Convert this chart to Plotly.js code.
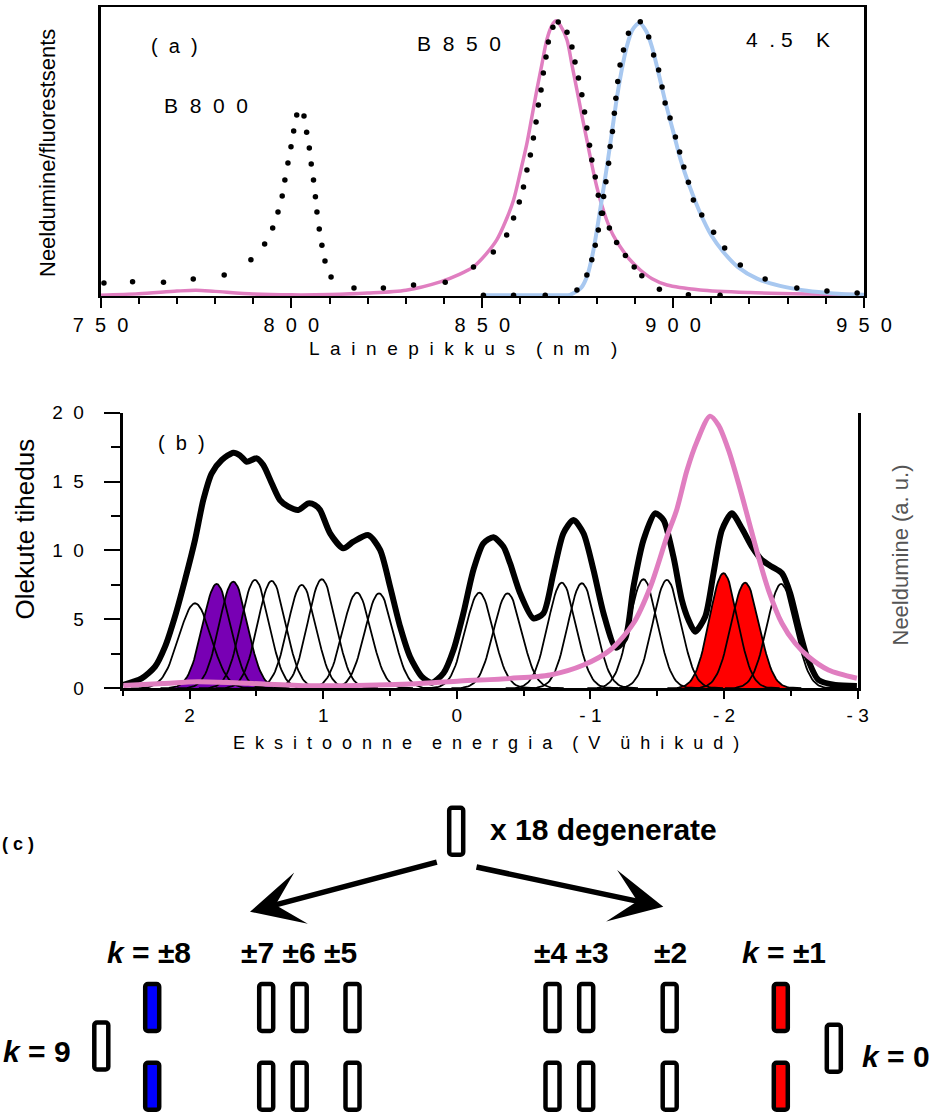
<!DOCTYPE html>
<html><head><meta charset="utf-8">
<script src="https://cdn.plot.ly/plotly-3.0.1.min.js"></script>
<style>html,body{margin:0;padding:0;background:#fff}#chart{width:935px;height:1115px}</style>
</head><body><div id="chart"></div>
<script>
// ---------------- Panel (a): spectra vs wavelength (nm) ----------------
const absWl  = [750.9,758.4,766.5,774.3,782.4,789.4,793.0,795.1,796.5,797.6,798.3,799.1,799.9,800.6,801.4,803.3,804.0,804.7,805.2,805.8,806.3,806.7,807.3,808.0,808.8,810.4,816.4,824.1,832.0,840.3,847.7,852.9,856.4,858.2,859.7,860.8,861.7,862.6,863.4,864.1,864.7,865.4,866.0,866.7,867.3,868.5,869.9,872.2,873.5,874.3,875.2,876.1,876.8,877.4,878.1,878.7,879.6,880.4,881.5,883.3,885.2,887.5,889.8,891.8,896.4,904.0,912.3];
const absVal = [0.045,0.049,0.048,0.059,0.073,0.125,0.180,0.235,0.291,0.346,0.401,0.460,0.516,0.571,0.626,0.623,0.567,0.512,0.457,0.401,0.343,0.291,0.232,0.176,0.121,0.066,0.028,0.028,0.038,0.048,0.100,0.152,0.211,0.270,0.325,0.377,0.436,0.488,0.547,0.602,0.661,0.713,0.772,0.827,0.879,0.930,0.948,0.913,0.862,0.810,0.754,0.696,0.637,0.581,0.522,0.471,0.412,0.349,0.286,0.235,0.185,0.140,0.100,0.070,0.023,0.004,0.003];
const fluWl  = [850.3,858.2,866.5,874.8,877.4,878.7,879.6,880.4,881.2,881.8,882.4,883.1,883.5,884.1,884.6,885.0,885.5,886.1,887.0,888.3,891.4,893.6,894.9,896.2,897.1,897.9,899.2,900.6,901.7,902.8,904.0,905.3,907.5,910.6,913.5,917.6,924.1,932.4,940.3,948.2];
const fluVal = [0.003,0.003,0.003,0.021,0.073,0.125,0.176,0.228,0.286,0.344,0.395,0.459,0.517,0.569,0.632,0.684,0.742,0.799,0.851,0.909,0.949,0.896,0.834,0.782,0.723,0.668,0.616,0.550,0.498,0.446,0.394,0.332,0.280,0.221,0.166,0.107,0.059,0.028,0.017,0.010];
const calcAbsWl  = [750,760,770,775,780,790,800,810,820,830,839,844,847.7,851,853.8,856,858.2,860,861.7,863,864.3,865.6,866.9,868.2,869.3,870.5,872.2,873.5,874.8,876.1,877.4,878.7,880.0,881.3,882.6,884.3,886.1,888.5,891.4,894.5,898.4,907.1,920,935,950];
const calcAbsVal = [0.003,0.008,0.017,0.020,0.016,0.007,0.004,0.005,0.010,0.020,0.049,0.075,0.101,0.145,0.194,0.255,0.332,0.430,0.528,0.620,0.713,0.800,0.886,0.935,0.952,0.935,0.886,0.800,0.713,0.625,0.540,0.455,0.378,0.315,0.263,0.210,0.171,0.128,0.090,0.060,0.038,0.021,0.012,0.007,0.004];
const calcFluWl  = [850,860,870,873,876,877.5,879,880.3,881.5,882.8,884,885.2,886.5,887.8,889.3,891.2,893,894.5,896.2,898,900,902,904.3,907,910,913,917,922,928,935,942,950];
const calcFluVal = [0.003,0.003,0.003,0.004,0.030,0.070,0.150,0.250,0.350,0.460,0.570,0.680,0.780,0.860,0.920,0.945,0.915,0.860,0.770,0.670,0.570,0.470,0.380,0.290,0.210,0.155,0.100,0.060,0.035,0.018,0.009,0.004];
const aTickVals = [750,800,850,900,950];

// ---------------- Panel (b): density of states vs exciton energy ----------------
const dosE   = [2.495,2.358,2.258,2.183,2.109,2.034,1.959,1.897,1.834,1.759,1.672,1.622,1.572,1.497,1.448,1.385,1.323,1.26,1.186,1.111,1.061,1.023,0.948,0.849,0.774,0.662,0.574,0.499,0.424,0.350,0.262,0.187,0.1,0.025,-0.049,-0.124,-0.199,-0.274,-0.349,-0.399,-0.474,-0.573,-0.648,-0.723,-0.798,-0.873,-0.948,-1.023,-1.098,-1.19,-1.26,-1.322,-1.397,-1.484,-1.547,-1.621,-1.684,-1.734,-1.784,-1.859,-1.921,-1.984,-2.058,-2.133,-2.208,-2.283,-2.358,-2.433,-2.495,-2.557,-2.62,-2.707,-2.832,-2.994];
const dosVal = [0.24,0.72,1.57,3.02,5.2,7.86,10.76,13.66,15.6,16.57,17.1,16.9,16.44,16.69,16.2,14.88,13.66,13.18,12.94,13.42,13.3,12.94,11.25,10.16,10.64,11.12,10.04,7.37,4.47,2.29,0.84,0.41,1.09,2.78,5.44,8.58,10.52,10.96,10.28,9.07,6.89,5.08,5.44,8.35,11.25,12.21,11.25,8.58,5.44,2.95,3.6,7.37,10.76,12.7,12.21,9.55,6.41,4.96,4.11,5.2,8.35,11.49,12.7,11.61,10.28,9.31,8.82,8.35,6.89,4.47,2.29,0.6,0.24,0.17];
const bandE = [1.959,1.797,1.672,1.51,1.385,1.16,1.01,0.748,0.582,-0.168,-0.38,-0.786,-0.936,-1.397,-1.572,-1.996,-2.158,-2.427];
const bandH = [6.17,7.57,7.74,7.86,7.79,7.5,7.91,6.94,6.89,6.94,6.89,7.66,7.62,7.91,7.86,8.35,7.66,7.57];
const bandW = [0.12,0.105,0.105,0.105,0.105,0.105,0.105,0.105,0.105,0.105,0.105,0.105,0.105,0.105,0.105,0.105,0.105,0.105];
const bandFill = ['','#7800b4','#7800b4','','','','','','','','','','','','','#ff0000','#ff0000',''];
const absBE   = [2.495,2.2,1.934,1.56,1.098,0.35,-0.025,-0.399,-0.698,-0.948,-1.148,-1.322,-1.449,-1.572,-1.647,-1.722,-1.797,-1.895,-1.958,-2.033,-2.108,-2.183,-2.257,-2.332,-2.433,-2.532,-2.632,-2.781,-2.994];
const absBVal = [0.2,0.35,0.48,0.36,0.19,0.31,0.53,0.72,0.97,1.69,2.78,4.72,7.37,11.0,13.0,15.8,17.9,19.75,19.1,17.3,14.88,12.21,9.55,7.13,4.72,3.27,2.29,1.33,0.73];
const bETicks  = [2,1,0,-1,-2,-3];
const bWlTicks = [760,800,840,880];
const bYTicks  = [0,5,10,15,20];

// ---------------- Panel (c): exciton level scheme ----------------
const levelNames = ['9','±8','±7','±6','±5','±4','±3','±2','±1','0','x18'];
const levelPos   = [101.3,152.2,266.2,299.7,352.5,552.5,586.2,669.7,780.8,833.8,456.2];
const levelPair  = [false,true,true,true,true,true,true,true,true,false,false];
const levelRow   = [69,0,0,0,0,0,0,0,0,66.7,283.7];
const levelColor = ['#fff','#0000ff','#fff','#fff','#fff','#fff','#fff','#fff','#ff0000','#fff','#fff'];
const pairRows   = [107.5,28.7];

// ---------------- helpers (presentation only) ----------------
const NB = '\u00A0';
const FAM = 'Liberation Sans, Arial, sans-serif';
function spaced(s, gap, wordGap){
  return s.split(' ').map(w => Array.from(w).join(NB.repeat(gap))).join(NB.repeat(wordGap||gap*2));
}
function negLabel(v){ return v < 0 ? '-' + NB + String(-v) : String(v); }

const traces = [];
// (a)
traces.push({x:calcAbsWl, y:calcAbsVal, xaxis:'x', yaxis:'y', mode:'lines', line:{color:'#e07ec0', width:3.5, shape:'spline', smoothing:0.8}, hoverinfo:'skip'});
traces.push({x:calcFluWl, y:calcFluVal, xaxis:'x', yaxis:'y', mode:'lines', line:{color:'#a8c8f0', width:4, shape:'spline', smoothing:0.8}, hoverinfo:'skip'});
traces.push({x:absWl, y:absVal, xaxis:'x', yaxis:'y', mode:'markers', marker:{size:5.5, color:'#000'}, cliponaxis:false, hoverinfo:'skip'});
traces.push({x:fluWl, y:fluVal, xaxis:'x', yaxis:'y', mode:'markers', marker:{size:5.5, color:'#000'}, cliponaxis:false, hoverinfo:'skip'});

// (b) gaussian components built from the read centre/height/width
function band(i){
  const xs = [], ys = [];
  for (let k = -40; k <= 40; k++){
    const t = k / 10;
    xs.push(bandE[i] + t * bandW[i]);
    ys.push(bandH[i] * Math.exp(-0.5 * t * t));
  }
  return {xs, ys};
}
bandE.forEach((e, i) => {
  if (bandFill[i]) {
    const b = band(i);
    traces.push({x:b.xs, y:b.ys, xaxis:'x2', yaxis:'y2', mode:'lines', line:{width:0, color:bandFill[i]}, fill:'tozeroy', fillcolor:bandFill[i], hoverinfo:'skip'});
  }
});
bandE.forEach((e, i) => {
  const b = band(i);
  traces.push({x:b.xs, y:b.ys, xaxis:'x2', yaxis:'y2', mode:'lines', line:{width:1.8, color:'#000'}, hoverinfo:'skip'});
});
traces.push({x:dosE, y:dosVal, xaxis:'x2', yaxis:'y2', mode:'lines', line:{color:'#000', width:6, shape:'spline', smoothing:0.7}, hoverinfo:'skip'});
traces.push({x:absBE, y:absBVal, xaxis:'x2', yaxis:'y2', mode:'lines', line:{color:'#e07ec0', width:5, shape:'spline', smoothing:0.8}, hoverinfo:'skip'});

// (c) level boxes as bars
const bx = [], bbase = [], bcol = [];
const BW = 14, BH = 47;
levelPos.forEach((p, i) => {
  const rows = levelPair[i] ? pairRows : [levelRow[i]];
  rows.forEach(r => { bx.push(p); bbase.push(r - BH/2); bcol.push(levelColor[i]); });
});
traces.push({type:'bar', x:bx, y:bx.map(() => BH), base:bbase, width:BW, xaxis:'x4', yaxis:'y4',
  marker:{color:bcol, line:{color:'#000', width:4.5}, cornerradius:3}, hoverinfo:'skip'});

// ---------------- layout ----------------
function P(px, py){ return {xref:'paper', yref:'paper', x:px/935, y:1 - py/1115}; }
function ann(px, py, text, size, extra){
  return Object.assign(P(px, py), {text:text, showarrow:false, xanchor:'center', yanchor:'middle',
    font:{family:FAM, size:size, color:'#000'}}, extra || {});
}
function cann(x, y, text, anchor, size){
  return {xref:'x4', yref:'y4', x:x, y:y, text:text, showarrow:false, xanchor:anchor, yanchor:'middle',
    font:{family:FAM, size:size || 30, color:'#000'}};
}
const axBase = {showgrid:false, zeroline:false, showline:true, linecolor:'#000', ticks:'outside', tickcolor:'#000', tickwidth:2, fixedrange:true};
const annotations = [
  ann(174, 46, spaced('(a)', 2), 20),
  ann(206, 105, spaced('B800', 2), 21),
  ann(458.5, 43, spaced('B850', 2), 21),
  ann(787.5, 40, '4' + NB+NB + '.' + NB + '5' + NB.repeat(4) + 'K', 21),
  ann(47, 153, 'Neeldumine/fluorestsents', 22, {textangle:-90}),
  ann(463, 348.5, spaced('Lainepikkus (nm )', 2, 4), 19),
  ann(181, 443, spaced('(b)', 2), 20),
  ann(24.5, 529, 'Olekute tihedus', 26, {textangle:-90}),
  ann(899.5, 555, 'Neeldumine (a. u.)', 22, {textangle:-90, font:{family:FAM, size:22, color:'#555'}}),
  ann(486, 743, spaced('Eksitoonne energia (V ühikud)', 2, 4), 18),
  cann(0, 270.6, '<b>(' + NB + 'c' + NB + ')</b>', 'left', 18),
  cann(488, 285.5, '<b>x 18 degenerate</b>', 'left'),
  cann(105, 162.5, '<b><i>k</i> = ±8</b>', 'left'),
  cann(239.3, 162.5, '<b>±7 ±6 ±5</b>', 'left'),
  cann(531.7, 162.5, '<b>±4 ±3</b>', 'left'),
  cann(651.7, 162.5, '<b>±2</b>', 'left'),
  cann(740, 162.5, '<b><i>k</i> = ±1</b>', 'left'),
  cann(1, 63.8, '<b><i>k</i> = 9</b>', 'left'),
  cann(860, 58.8, '<b><i>k</i> = 0</b>', 'left'),
  {xref:'x4', yref:'y4', x:250, y:203.3, axref:'x4', ayref:'y4', ax:438.3, ay:253.3, text:'', showarrow:true, arrowhead:3, arrowwidth:5.5, arrowsize:1.6, arrowcolor:'#000', standoff:0, startstandoff:0},
  {xref:'x4', yref:'y4', x:663.3, y:208.3, axref:'x4', ayref:'y4', ax:475, ay:248.3, text:'', showarrow:true, arrowhead:3, arrowwidth:5.5, arrowsize:1.6, arrowcolor:'#000', standoff:0, startstandoff:0}
];

const layout = {
  width:935, height:1115, margin:{l:0, r:0, t:0, b:0}, paper_bgcolor:'#fff', plot_bgcolor:'rgba(0,0,0,0)',
  showlegend:false, font:{family:FAM, size:18, color:'#000'}, bargap:0,
  xaxis: Object.assign({}, axBase, {domain:[0.10749,0.92406], anchor:'y', range:[750,950], tickmode:'array',
    tickvals:aTickVals, ticktext:aTickVals.map(v => spaced(String(v), 2)), ticklen:10, linewidth:2.5, mirror:true,
    tickfont:{family:FAM, size:20, color:'#000'},
    minor:{tick0:750, dtick:10, ticks:'outside', ticklen:6, tickwidth:2, tickcolor:'#000'}}),
  yaxis: {showgrid:false, zeroline:false, showline:true, linecolor:'#000', linewidth:3, mirror:true,
    domain:[0.73453,0.99372], anchor:'x', range:[0,1], showticklabels:false, ticks:'', fixedrange:true},
  xaxis2: Object.assign({}, axBase, {domain:[0.13123,0.91733], anchor:'y2', range:[2.5,-3], tickmode:'array',
    tickvals:bETicks, ticktext:bETicks.map(negLabel), ticklen:8, linewidth:2.5,
    tickfont:{family:FAM, size:19, color:'#000'},
    minor:{tick0:0, dtick:0.5, ticks:'outside', ticklen:5, tickwidth:2, tickcolor:'#000'}}),
  xaxis3: Object.assign({}, axBase, {overlaying:'x2', side:'top', anchor:'y2', range:[757,897.85], tickmode:'array',
    tickvals:bWlTicks, ticktext:bWlTicks.map(v => spaced(String(v), 2)), ticklen:9, linewidth:2,
    tickfont:{family:FAM, size:19, color:'#000'},
    minor:{tick0:760, dtick:10, ticks:'outside', ticklen:5, tickwidth:2, tickcolor:'#000'}}),
  yaxis2: Object.assign({}, axBase, {domain:[0.38269,0.62987], anchor:'x2', range:[0,20], tickmode:'array',
    tickvals:bYTicks, ticktext:bYTicks.map(v => spaced(String(v), 2)), ticklen:16, linewidth:3, mirror:true,
    ticklabelstandoff:16, tickfont:{family:FAM, size:19, color:'#000'},
    minor:{tick0:0, dtick:2.5, ticks:'outside', ticklen:9, tickwidth:2, tickcolor:'#000'}}),
  xaxis4: {domain:[0,1], range:[0,935], visible:false, fixedrange:true, anchor:'y4'},
  yaxis4: {domain:[0,0.29148], range:[0,325], visible:false, fixedrange:true, anchor:'x4'},
  annotations: annotations
};

Plotly.newPlot('chart', traces, layout, {staticPlot:true, displayModeBar:false});
</script>
</body></html>
